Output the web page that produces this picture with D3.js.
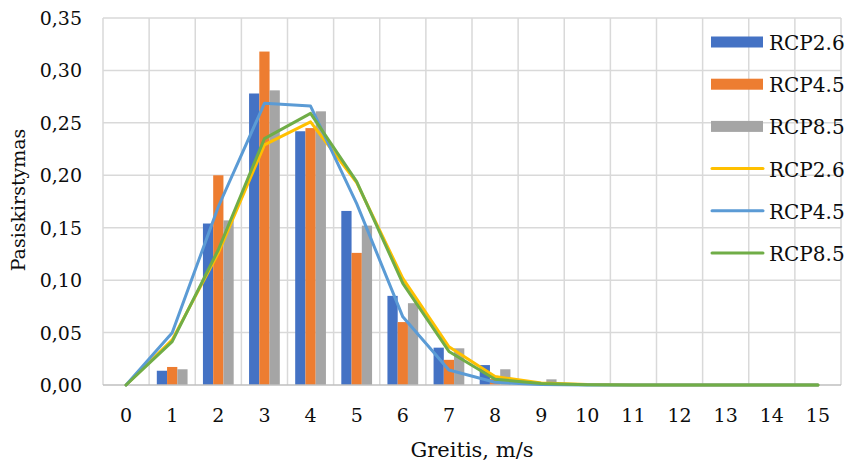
<!DOCTYPE html>
<html>
<head>
<meta charset="utf-8">
<script src="https://cdn.jsdelivr.net/npm/d3@7"></script>
<style>
  html, body { margin: 0; padding: 0; background: #fff; }
  svg { display: block; }
</style>
</head>
<body>
<svg id="chart" width="847" height="464"></svg>
<script>
// Wind speed classes (m/s)
const categories = ["0","1","2","3","4","5","6","7","8","9","10","11","12","13","14","15"];

// Bar series: observed distribution per scenario
const barRcp26 = [0, 0.0136, 0.154, 0.278, 0.242, 0.166, 0.085, 0.0356, 0.019, 0.002, 0.0005, 0, 0, 0, 0, 0];
const barRcp45 = [0, 0.0172, 0.200, 0.318, 0.245, 0.126, 0.060, 0.024, 0.006, 0.001, 0, 0, 0, 0, 0, 0];
const barRcp85 = [0, 0.015, 0.157, 0.281, 0.261, 0.152, 0.078, 0.035, 0.015, 0.0054, 0.001, 0, 0, 0, 0, 0];

// Line series: fitted distribution per scenario
const lineRcp26 = [0, 0.043, 0.126, 0.229, 0.251, 0.193, 0.1017, 0.0365, 0.008, 0.002, 0.0005, 0, 0, 0, 0, 0];
const lineRcp45 = [0, 0.0499, 0.170, 0.2686, 0.266, 0.173, 0.065, 0.0143, 0.0026, 0.0005, 0, 0, 0, 0, 0, 0];
const lineRcp85 = [0, 0.0413, 0.129, 0.235, 0.259, 0.194, 0.097, 0.032, 0.0055, 0.0015, 0.0003, 0, 0, 0, 0, 0];

const yTicks = [0, 0.05, 0.10, 0.15, 0.20, 0.25, 0.30, 0.35];
const barNames = ["RCP2.6", "RCP4.5", "RCP8.5"];
const lineNames = ["RCP2.6", "RCP4.5", "RCP8.5"];

const barColors = ["#4472C4", "#ED7D31", "#A5A5A5"];
const lineColors = ["#FFC000", "#5B9BD5", "#70AD47"];
const textColor = "#0d0d0d";
const fontStack = "'DejaVu Serif', serif";

const svg = d3.select("#chart");
const plot = { left: 103, right: 841, top: 18, bottom: 385 };

const x = d3.scaleBand().domain(categories).range([plot.left, plot.right]).padding(0);
const y = d3.scaleLinear().domain([0, 0.35]).range([plot.bottom, plot.top]);

const groupWidth = x.bandwidth() * 3 / 4.5;
const xInner = d3.scaleBand().domain(d3.range(3)).range([0, groupWidth]).padding(0);

const fmt = v => d3.format(".2f")(v).replace(".", ",");

// Horizontal gridlines
svg.append("g")
  .selectAll("line")
  .data(yTicks.filter(t => t > 0))
  .join("line")
  .attr("x1", plot.left).attr("x2", plot.right)
  .attr("y1", d => y(d)).attr("y2", d => y(d))
  .attr("stroke", "#d9d9d9").attr("stroke-width", 1.5);

// Vertical gridlines at category boundaries
svg.append("g")
  .selectAll("line")
  .data(categories.slice(1))
  .join("line")
  .attr("x1", d => x(d)).attr("x2", d => x(d))
  .attr("y1", plot.top).attr("y2", plot.bottom)
  .attr("stroke", "#d9d9d9").attr("stroke-width", 1.5);

// Plot frame: left and right edges
[plot.left, plot.right].forEach(px => {
  svg.append("line")
    .attr("x1", px).attr("x2", px)
    .attr("y1", plot.top).attr("y2", plot.bottom)
    .attr("stroke", "#d9d9d9").attr("stroke-width", 1.5);
});

// Bars
const barSeries = [barRcp26, barRcp45, barRcp85];
barSeries.forEach((vals, si) => {
  svg.append("g")
    .selectAll("rect")
    .data(vals.map((v, i) => ({ c: categories[i], v })))
    .join("rect")
    .attr("x", d => x(d.c) + (x.bandwidth() - groupWidth) / 2 + xInner(si))
    .attr("width", xInner.bandwidth())
    .attr("y", d => y(d.v))
    .attr("height", d => y(0) - y(d.v))
    .attr("fill", barColors[si]);
});

// Bottom axis line
svg.append("line")
  .attr("x1", plot.left).attr("x2", plot.right)
  .attr("y1", plot.bottom).attr("y2", plot.bottom)
  .attr("stroke", "#bfbfbf").attr("stroke-width", 1.5);

// Lines
const lineSeries = [lineRcp26, lineRcp45, lineRcp85];
const lineGen = d3.line()
  .x((d, i) => x(categories[i]) + x.bandwidth() / 2)
  .y(d => y(d));
lineSeries.forEach((vals, si) => {
  svg.append("path")
    .datum(vals)
    .attr("d", lineGen)
    .attr("fill", "none")
    .attr("stroke", lineColors[si])
    .attr("stroke-width", 3)
    .attr("stroke-linejoin", "round")
    .attr("stroke-linecap", "round");
});

// Y axis tick labels
svg.append("g")
  .selectAll("text")
  .data(yTicks)
  .join("text")
  .attr("x", 82)
  .attr("y", d => y(d) + 7)
  .attr("text-anchor", "end")
  .attr("font-family", fontStack)
  .attr("font-size", 19)
  .attr("fill", textColor)
  .text(fmt);

// X axis tick labels
svg.append("g")
  .selectAll("text")
  .data(categories)
  .join("text")
  .attr("x", d => x(d) + x.bandwidth() / 2)
  .attr("y", 422)
  .attr("text-anchor", "middle")
  .attr("font-family", fontStack)
  .attr("font-size", 19)
  .attr("fill", textColor)
  .text(d => d);

// Axis titles
svg.append("text")
  .attr("x", (plot.left + plot.right) / 2).attr("y", 457)
  .attr("text-anchor", "middle")
  .attr("font-family", fontStack)
  .attr("font-size", 21)
  .attr("fill", textColor)
  .text("Greitis, m/s");

svg.append("text")
  .attr("transform", "translate(25,200) rotate(-90)")
  .attr("text-anchor", "middle")
  .attr("font-family", fontStack)
  .attr("font-size", 19)
  .attr("fill", textColor)
  .text("Pasiskirstymas");

// Legend
const legend = svg.append("g");
const legendItems = [
  ...barNames.map((n, i) => ({ name: n, color: barColors[i], type: "bar" })),
  ...lineNames.map((n, i) => ({ name: n, color: lineColors[i], type: "line" }))
];
legendItems.forEach((it, i) => {
  const cy = 42 + i * 42.2;
  if (it.type === "bar") {
    legend.append("rect")
      .attr("x", 711).attr("y", cy - 5.5)
      .attr("width", 52).attr("height", 11)
      .attr("fill", it.color);
  } else {
    legend.append("line")
      .attr("x1", 712).attr("x2", 763)
      .attr("y1", cy).attr("y2", cy)
      .attr("stroke", it.color).attr("stroke-width", 3)
      .attr("stroke-linecap", "round");
  }
  legend.append("text")
    .attr("x", 769).attr("y", cy + 8)
    .attr("font-family", fontStack)
    .attr("font-size", 20)
    .attr("fill", textColor)
    .text(it.name);
});
</script>
</body>
</html>
